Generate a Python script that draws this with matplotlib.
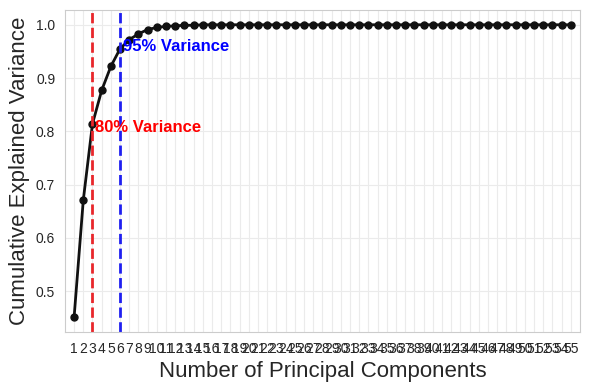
import matplotlib
matplotlib.use("Agg")
import matplotlib.pyplot as plt
import seaborn as sns
import numpy as np

components = list(range(1, 56))
cumulative_variance = [0.451, 0.671, 0.814, 0.877, 0.922, 0.955, 0.972, 0.983, 0.991, 0.995,
                       0.997, 0.998, 0.999, 0.999] + [1.0] * 41
threshold_80_n = 3
threshold_95_n = 6

sns.set_style("whitegrid")
plt.rcParams['font.family'] = ['Liberation Sans', 'DejaVu Sans']

fig, ax = plt.subplots(figsize=(5.9, 3.9), dpi=100)
fig.subplots_adjust(left=0.110, right=0.983, top=0.974, bottom=0.149)

ax.plot(components, cumulative_variance, color='#111111', marker='o', markersize=5, linewidth=2)
ax.axvline(threshold_80_n, color='#e8262b', linestyle='--', linewidth=2)
ax.axvline(threshold_95_n, color='#1f1ff0', linestyle='--', linewidth=2)
ax.text(threshold_80_n + 0.3, 0.808, '80% Variance', color='red', fontsize=12,
        fontweight='bold', va='center')
ax.text(threshold_95_n + 0.3, 0.959, '95% Variance', color='blue', fontsize=12,
        fontweight='bold', va='center')

ax.set_xticks(components)
ax.set_xticklabels([str(c) for c in components], fontsize=10)
ax.set_xlim(0, 56)
ax.tick_params(axis='y', labelsize=10)
ax.set_xlabel('Number of Principal Components', fontsize=16)
ax.set_ylabel('Cumulative Explained Variance', fontsize=16)
ax.grid(True, color='#ebebeb', linewidth=0.8)

fig.savefig('out.png', dpi=100)
